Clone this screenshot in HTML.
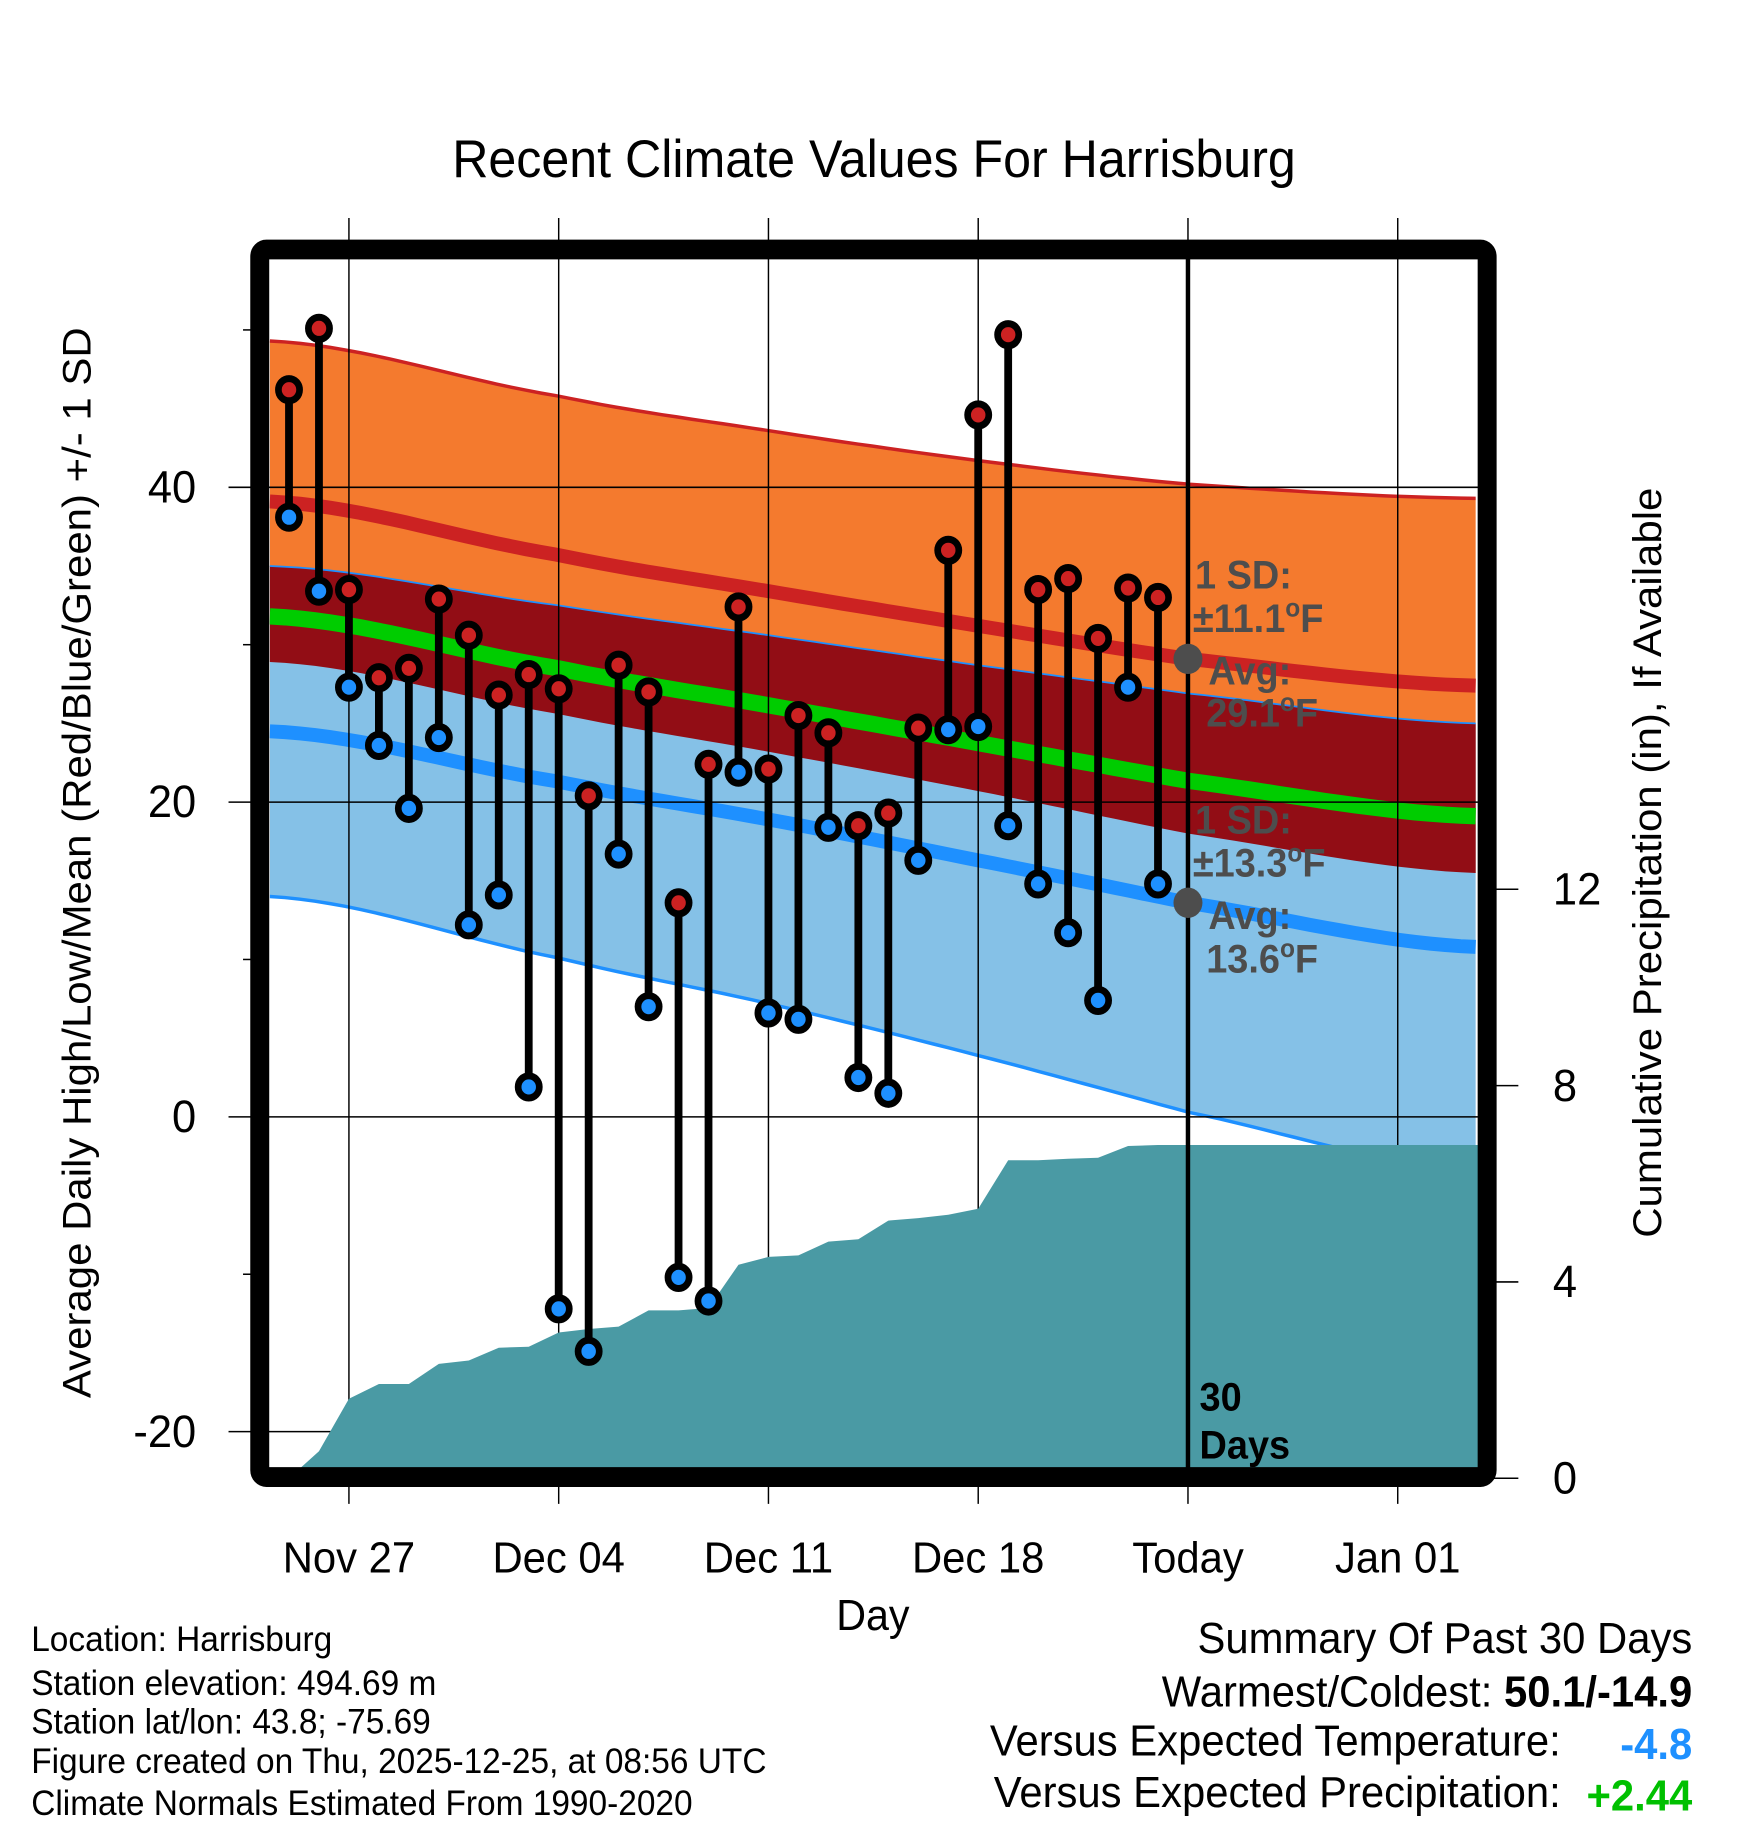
<!DOCTYPE html>
<html><head><meta charset="utf-8"><style>
html,body{margin:0;padding:0;background:#fff;}
svg{display:block;font-family:"Liberation Sans",sans-serif;}
</style></head><body>
<svg id="chart" width="1748" height="1828" viewBox="0 0 1568 1568" preserveAspectRatio="none" xmlns="http://www.w3.org/2000/svg">
<text x="784" y="152" font-size="45" text-anchor="middle">Recent Climate Values For Harrisburg</text>
<g id="bands"></g>
<g id="grid"></g>
<g id="precip"></g>
<g id="marks"></g>
<g id="axes"></g>
<text transform="translate(81,740) rotate(-90)" font-size="36" text-anchor="middle">Average Daily High/Low/Mean (Red/Blue/Green) +/- 1 SD</text>
<text transform="translate(1490,740) rotate(-90)" font-size="36" text-anchor="middle">Cumulative Precipitation (in), If Available</text>
<text x="783" y="1398" font-size="37" text-anchor="middle">Day</text>
<g font-size="30">
<text x="28" y="1416">Location: Harrisburg</text>
<text x="28" y="1454">Station elevation: 494.69 m</text>
<text x="28" y="1487">Station lat/lon: 43.8; -75.69</text>
<text x="28" y="1521">Figure created on Thu, 2025-12-25, at 08:56 UTC</text>
<text x="28" y="1557">Climate Normals Estimated From 1990-2020</text>
</g>
<g font-size="37.5">
<text x="1518" y="1418" text-anchor="end">Summary Of Past 30 Days</text>
<text x="1518" y="1464" text-anchor="end">Warmest/Coldest: <tspan font-weight="bold">50.1/-14.9</tspan></text>
<text x="1400" y="1506" text-anchor="end">Versus Expected Temperature:</text>
<text x="1518" y="1509" text-anchor="end" font-weight="bold" fill="#1e90ff">-4.8</text>
<text x="1400" y="1550" text-anchor="end">Versus Expected Precipitation:</text>
<text x="1518" y="1553" text-anchor="end" font-weight="bold" fill="#00c000">+2.44</text>
</g>
</svg>
<script>
// Daily data, Nov 25 .. Dec 24 (day index -2 .. 27 relative to Nov 27)
const highs = [46.2,50.1,33.5,27.9,28.5,32.9,30.6,26.8,28.1,27.2,20.4,28.7,27.0,13.6,22.4,32.4,22.1,25.5,24.4,18.5,19.3,24.7,36.0,44.6,49.7,33.5,34.2,30.4,33.6,33.0];
const lows = [38.1,33.4,27.3,23.6,19.6,24.1,12.2,14.1,1.9,-12.2,-14.9,16.7,7.0,-10.2,-11.7,21.9,6.6,6.2,18.4,2.5,1.5,16.3,24.6,24.8,18.5,14.8,11.7,7.4,27.3,14.8];
const precip = [0,0.55,1.62,1.92,1.92,2.33,2.40,2.66,2.68,2.97,3.04,3.09,3.42,3.42,3.47,4.35,4.51,4.54,4.82,4.87,5.25,5.30,5.37,5.49,6.48,6.48,6.51,6.53,6.77,6.79];
// Climate normals sampled at days (relative to Nov 27)
const normDays = [-2.64,7,14,21,28,37.6];
const highMean = [39.1,35.7,33.4,31.2,29.1,27.4];
const highSD = [10.2,10.1,10.2,10.5,11.1,11.9];
const lowMean = [24.5,21.3,18.9,16.3,13.6,10.8];
const lowSD = [10.5,11.2,11.7,12.4,13.3,14.2];
const xTickLabels = ["Nov 27","Dec 04","Dec 11","Dec 18","Today","Jan 01"];
const yTicks = [40,20,0,-20];
const yMinor = [50,30,10,-10];
const pTicks = [0,4,8,12];
const firstDay = -2;
const todayDay = 28;

const L=242,R=1326,T=222,B=1260;
const X=d=>313+d*26.88;
const Y=v=>958-v*13.5;
const P=p=>1268-p*42.1;
const NS='http://www.w3.org/2000/svg';
function mk(tag,attrs,parent){const e=document.createElementNS(NS,tag);for(const k in attrs)e.setAttribute(k,attrs[k]);parent.appendChild(e);return e;}
// smooth (Catmull-Rom style) interpolation through the normals samples
function interp(arr,d){const n=normDays.length;let i=0;while(i<n-2&&d>normDays[i+1])i++;
 const t=(d-normDays[i])/(normDays[i+1]-normDays[i]);
 const p0=arr[Math.max(i-1,0)],p1=arr[i],p2=arr[i+1],p3=arr[Math.min(i+2,n-1)];
 const m1=(p2-p0)/2,m2=(p3-p1)/2;const t2=t*t,t3=t2*t;
 return (2*t3-3*t2+1)*p1+(t3-2*t2+t)*m1*(i>0?1:0.5)+(-2*t3+3*t2)*p2+(t3-t2)*m2*(i<n-2?1:0.5);}
const svg=document.getElementById('chart');
const defs=mk('defs',{},svg);
const cp=mk('clipPath',{id:'plotclip'},defs);mk('rect',{x:L,y:T,width:R-L,height:B-T},cp);
const bands=document.getElementById('bands');bands.setAttribute('clip-path','url(#plotclip)');
const N=80;const ds=[];for(let i=0;i<=N;i++)ds.push(normDays[0]+(normDays[5]-normDays[0])*i/N);
const f={hm:d=>interp(highMean,d),hs:d=>interp(highSD,d),lm:d=>interp(lowMean,d),ls:d=>interp(lowSD,d)};
const line=g=>ds.map(d=>X(d).toFixed(1)+','+Y(g(d)).toFixed(1)).join(' ');
const area=(g1,g2)=>ds.map(d=>X(d).toFixed(1)+','+Y(g1(d)).toFixed(1)).concat(ds.slice().reverse().map(d=>X(d).toFixed(1)+','+Y(g2(d)).toFixed(1))).join(' ');
let e;
e=mk('polygon',{points:area(d=>f.hm(d)+f.hs(d),d=>f.hm(d)-f.hs(d)),fill:'#f47a2e'},bands);

e=mk('polygon',{points:area(d=>f.lm(d)+f.ls(d),d=>f.lm(d)-f.ls(d)),fill:'#85c1e7'},bands);

e=mk('polygon',{points:area(d=>f.lm(d)+f.ls(d),d=>f.hm(d)-f.hs(d)),fill:'#920d15'},bands);

e=mk('polyline',{points:line(d=>f.hm(d)+f.hs(d)),fill:'none',stroke:'#cc2222','stroke-width':3},bands);

e=mk('polyline',{points:line(f.hm),fill:'none',stroke:'#cc2222','stroke-width':12},bands);

e=mk('polyline',{points:line(d=>f.lm(d)+f.ls(d)),fill:'none',stroke:'#1e90ff','stroke-width':1.5},bands);

e=mk('polyline',{points:line(d=>(f.hm(d)+f.lm(d))/2),fill:'none',stroke:'#00cc00','stroke-width':14},bands);

e=mk('polyline',{points:line(f.lm),fill:'none',stroke:'#1e90ff','stroke-width':12},bands);

e=mk('polyline',{points:line(d=>f.lm(d)-f.ls(d)),fill:'none',stroke:'#1e90ff','stroke-width':3},bands);


// grid
const grid=document.getElementById('grid');
xTickLabels.forEach((lab,i)=>{const x=X(i*7);
 e=mk('line',{x1:x,x2:x,y1:187,y2:1290,stroke:'#000','stroke-width':1.3},grid);
 
 e=mk('text',{x:x,y:1349,'font-size':37.5,'text-anchor':'middle'},grid);e.textContent=lab;
 
});
yTicks.forEach(v=>{const y=Y(v);
 e=mk('line',{x1:205,x2:R,y1:y,y2:y,stroke:'#000','stroke-width':1.3},grid);
 
 e=mk('text',{x:176,y:y+13,'font-size':39,'text-anchor':'end'},grid);e.textContent=v;
 
});
yMinor.forEach(v=>{const y=Y(v);
 e=mk('line',{x1:218,x2:232,y1:y,y2:y,stroke:'#000','stroke-width':1.3},grid);
 
});
pTicks.forEach(p=>{const y=P(p);
 e=mk('line',{x1:1340,x2:1362,y1:y,y2:y,stroke:'#000','stroke-width':1.3},grid);
 
 e=mk('text',{x:1393,y:y+13,'font-size':39},grid);e.textContent=p;
 
});

// precip
const pg=document.getElementById('precip');pg.setAttribute('clip-path','url(#plotclip)');
let pts=[X(firstDay)+','+B];
precip.forEach((p,i)=>pts.push(X(firstDay+i)+','+P(p)));
pts.push(R+','+P(precip[precip.length-1]));pts.push(R+','+B);
e=mk('polygon',{points:pts.join(' '),fill:'#4a9aa4'},pg);


// marks
const mg=document.getElementById('marks');
const xt=X(todayDay);
e=mk('line',{x1:xt,x2:xt,y1:T,y2:B,stroke:'#000','stroke-width':4},mg);

highs.forEach((h,i)=>{const x=X(firstDay+i),l=lows[i];
 e=mk('line',{x1:x,x2:x,y1:Y(h),y2:Y(l),stroke:'#000','stroke-width':7},mg);
 
 e=mk('circle',{cx:x,cy:Y(h),r:9.5,fill:'#cc2222',stroke:'#000','stroke-width':6},mg);
 
 e=mk('circle',{cx:x,cy:Y(l),r:9.5,fill:'#1e90ff',stroke:'#000','stroke-width':6},mg);
 
});
const hmT=highMean[4],hsT=highSD[4],lmT=lowMean[4],lsT=lowSD[4];
e=mk('circle',{cx:xt,cy:Y(hmT),r:13,fill:'#4d4d4d'},mg);

e=mk('circle',{cx:xt,cy:Y(lmT),r:13,fill:'#4d4d4d'},mg);

function ann(txt,x,y,name){const t=mk('text',{x:x,y:y,'font-size':34,'font-weight':'bold',fill:'#4d4d4d'},mg);t.innerHTML=txt;
 }
const deg='<tspan dy="-13" font-size="22">o</tspan><tspan dy="13">F</tspan>';
ann('1 SD:',1072,505,'high-sd-label');
ann('±'+hsT.toFixed(1)+deg,1070,542,'high-sd-value');
ann('Avg:',1084,587,'high-avg-label');
ann(hmT.toFixed(1)+deg,1082,623,'high-avg-value');
ann('1 SD:',1072,715,'low-sd-label');
ann('±'+lsT.toFixed(1)+deg,1070,752,'low-sd-value');
ann('Avg:',1084,797,'low-avg-label');
ann(lmT.toFixed(1)+deg,1082,834,'low-avg-value');
e=mk('text',{x:1076,y:1210,'font-size':34,'font-weight':'bold'},mg);e.textContent='30';

e=mk('text',{x:1076,y:1251,'font-size':34,'font-weight':'bold'},mg);e.textContent='Days';


// frame
const ax=document.getElementById('axes');
e=mk('rect',{x:233,y:214,width:1101,height:1053,rx:6,fill:'none',stroke:'#000','stroke-width':17},ax);

</script>
</body></html>
